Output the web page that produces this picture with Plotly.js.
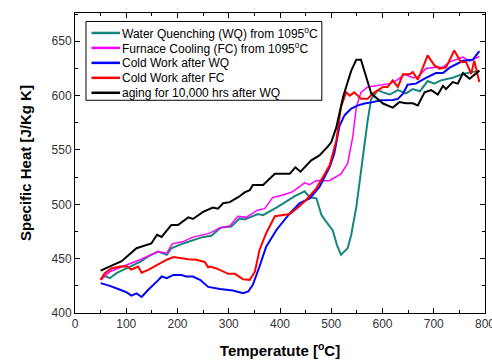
<!DOCTYPE html>
<html><head><meta charset="utf-8">
<script src="https://cdn.plot.ly/plotly-3.0.1.min.js"></script>
<style>html,body{margin:0;padding:0;background:#fff}#chart{width:492px;height:361px}</style>
</head><body><div id="chart"></div>
<script>
const wqT = [50,58,68,81,94,107,127,143,162,179,188,211,230,250,266,283,289,305,321,331,357,367,393,410,429,448,458,471,481,490,503,511,519,532,539,549,560,571,578,591,601,614,630,646,659,673,688,701,714,737,757,776,789];
const wqV = [430.5,434,432,436.7,439.7,442.8,447,452,456.5,453.5,459.6,464,467,470,471,478,479,479.5,487,486,491,490,497,502,507.6,512,506.4,505.5,490,484,476,462.7,453.5,459.6,472,497.8,537.6,577,597,605,603,601,605,602,606,604,613.4,611,614,616.5,620,621.7,623];

const fcT = [50,68,94,127,162,179,190,211,230,263,283,302,318,334,357,370,386,399,419,425,448,458,471,484,497,519,532,542,549,558,571,594,614,630,643,659,669,685,704,718,731,757,770,789];
const fcV = [430.5,438,443,449,456.5,455,463.6,465.7,469.8,473.5,478.5,480,489,488,494.8,496,506.4,507.6,510.6,511.6,519.8,518,522,521.6,522,528,537.6,562,589.6,603,608,609.5,611,614.7,619.6,616.5,617,625,626,626,631,635.5,632,636];

const cwqT = [50,68,88,101,110,120,130,143,162,169,179,192,208,217,230,244,260,283,308,328,338,347,360,373,393,419,438,458,477,497,506,516,526,539,552,565,581,597,620,630,640,649,665,682,704,718,731,744,757,776,789];
const cwqV = [427.5,425,421.4,419,416,418,414.7,421.4,430,433.6,432,435,435,433.6,433.6,430.5,424,422,420.7,418.3,419.8,426,442.8,461,476.4,491.7,501,505.5,516,534.5,547,572,582,588,591,592.7,594,595.7,596,597,601.8,610,611,615.6,620.7,620.7,625.7,628.7,632,633,641];

const cfcT = [50,58,71,88,101,110,123,130,143,159,179,192,205,221,237,253,260,263,276,299,312,328,341,351,360,373,390,403,419,435,451,471,487,497,510,519,529,536,545,558,571,581,601,610,620,630,640,653,659,669,679,688,701,711,724,740,753,763,773,779,789];
const cfcV = [430.5,436.7,441,442.8,443,440,442.8,437,439.7,444,449,451.4,450.5,449.5,449,447,442,442.8,441,436,436,431,430.5,438,458,473.4,489,490,491,497,504,514.7,528.4,536,559,589.6,603,600,603,597,597,601.8,608,608,614,608,619.6,619.6,621.7,614.7,626,637,628,624.8,626,641.5,631,631,620,632,612.5];

const agT = [50,75,91,120,149,160,169,188,201,221,230,250,269,279,289,302,320,331,341,347,367,390,419,430,440,461,477,493,500,510,523,539,549,558,568,578,601,620,633,646,659,669,682,695,708,718,724,737,747,757,770,789];
const agV = [439,444,447.7,459.6,464,472,470,481,481,488,486.5,493,497,496,501,502,507,511,513,517.7,517.7,528,528,534,530,540.5,545,553,557,571,598.7,623,633,633,617,602,592.7,589,594,593,593,591,603,605,601,609,606,612.5,611,620.7,615.6,623];

const names = ['Water Quenching (WQ) from 1095<sup>o</sup>C','Furnace Cooling (FC) from 1095<sup>o</sup>C','Cold Work after WQ','Cold Work after FC','aging for 10,000 hrs after WQ'];
const colors = ['#15857d','#ff00ff','#0000ff','#ff0000','#000000'];
const xs = [wqT, fcT, cwqT, cfcT, agT];
const ys = [wqV, fcV, cwqV, cfcV, agV];
const widths = [2,1.5,2,2,2];

const traces = xs.map((x,i)=>({x:x,y:ys[i],name:names[i],type:'scatter',mode:'lines',showlegend:false,line:{color:colors[i],width:widths[i]}}));

// custom legend (compact, like the reference)
const W = 410.3, H = 300.8, L = 75, B = 313.3;
const px = v => (v - L) / W;
const py = v => (B - v) / H;
const shapes = [{type:'rect',xref:'paper',yref:'paper',x0:px(86),x1:px(322),y0:py(100),y1:py(21),line:{color:'#000',width:1},fillcolor:'#fff',layer:'above'}];
const annotations = [];
names.forEach((n,i)=>{
  const yy = py(32.5 + 15*i);
  shapes.push({type:'line',xref:'paper',yref:'paper',x0:px(91.5),x1:px(120),y0:yy,y1:yy,line:{color:colors[i],width:2.5},layer:'above'});
  annotations.push({xref:'paper',yref:'paper',x:px(120),y:yy,xanchor:'left',yanchor:'middle',showarrow:false,text:n,
    font:{family:'Liberation Sans, Arial, sans-serif',size:12,color:'#000'}});
});

const axisCommon = {showgrid:false,zeroline:false,showline:true,linecolor:'#000',linewidth:1,mirror:'ticks',ticks:'inside',ticklen:5,tickcolor:'#000',
  tickfont:{family:'Liberation Sans, Arial, sans-serif',size:12,color:'#333'},ticklabeloverflow:'allow',
  minor:{ticks:'inside',ticklen:3,tickcolor:'#000'}};

const layout = {
  width:492,height:361,
  margin:{l:75,r:7,t:13,b:48},
  paper_bgcolor:'#fff',plot_bgcolor:'#fff',
  showlegend:false,
  shapes:shapes,
  annotations:annotations,
  xaxis:Object.assign({},axisCommon,{range:[0,800],tickvals:[0,100,200,300,400,500,600,700,800],minor:Object.assign({},axisCommon.minor,{dtick:50}),
    title:{text:'Temperatute [<sup>o</sup>C]',font:{family:'Liberation Sans, Arial, sans-serif',size:15,color:'#000',weight:'bold'},standoff:15}}),
  yaxis:Object.assign({},axisCommon,{range:[400,676],tickvals:[400,450,500,550,600,650],minor:Object.assign({},axisCommon.minor,{dtick:25}),
    title:{text:'Specific Heat [J/Kg K]',font:{family:'Liberation Sans, Arial, sans-serif',size:15,color:'#000',weight:'bold'},standoff:16}})
};
Plotly.newPlot('chart',traces,layout,{displayModeBar:false,staticPlot:true});
</script></body></html>
